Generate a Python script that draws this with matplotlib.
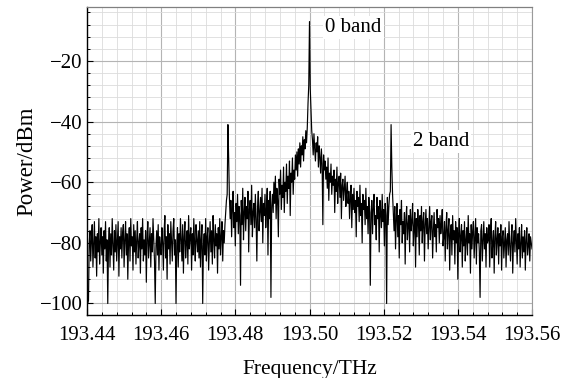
import numpy as np
import matplotlib
matplotlib.use("Agg")
import matplotlib.pyplot as plt
from matplotlib.ticker import MultipleLocator

# Spectrum, frequency grid 193.44 .. 193.56 THz (step 0.0002 THz)
floor_a = [-100, -100, -99, -80, -76, -86, -79, -74, -88, -81, -73, -85, -78, -91, -77, -83, -72, -87, -80, -75,
           -84, -78, -90, -76, -82, -73, -86, -79, -100, -81, -75, -88, -77, -84, -72, -80, -89, -76, -83, -74,
           -86, -79, -73, -91, -78, -82, -75, -85, -77, -74]
floor_b = [-88, -79, -73, -84, -77, -92, -80, -75, -86, -72, -81, -78, -89, -74, -83, -76, -87, -79, -73, -85,
           -80, -77, -90, -75, -82, -72, -86, -79, -84, -76, -93, -78, -73, -85, -80, -75, -88, -77, -83, -72,
           -79, -86, -100, -81, -76, -84, -74, -89, -78, -82]
floor_c = [-84, -75, -80, -89, -76, -71, -85, -78, -92, -74, -82, -77, -87, -73, -80, -86, -76, -72, -84, -79,
           -100, -81, -75, -88, -77, -83, -72, -79, -86, -74, -90, -78, -73, -85, -80, -76, -87, -71, -82, -78,
           -75, -89, -77, -84, -72, -80, -86, -74, -79, -83]
floor_d = [-76, -85, -73, -88, -79, -74, -100, -81, -77, -84, -72, -86, -78, -75, -89, -80, -73, -83, -76, -87,
           -71, -79, -85, -74, -81, -77, -90, -75, -82, -72, -84, -78, -73, -86, -76, -80, -74, -70, -66]
left_band = [-64, -41, -52, -65]
rise_a = [-72, -66, -78, -69, -63, -75, -70, -81, -67, -73, -64, -77, -68, -71, -94, -66, -74, -62, -79, -70,
          -65, -76, -68, -72, -63, -83, -69, -66, -74, -61, -78, -70, -67, -75, -64, -72, -86, -68, -63, -76,
          -70, -65, -73, -62, -80, -67, -71, -64, -75, -69, -62, -84, -66, -72, -63, -98, -68]
rise_b = [-64, -70, -60, -67, -58, -72, -62, -66, -78, -59, -64, -56, -69, -61, -65, -55, -70, -60, -63, -54,
          -67, -58, -62, -53, -71, -57, -60, -52, -64, -56, -59, -51]
rise_c = [-56, -50, -58, -49, -54, -47, -55, -48, -51, -45, -53, -46, -49, -43, -47, -42]
carrier = [-34, -28, -7, -29, -36, -43]
fall_a = [-46, -51, -44, -49, -53, -47, -50, -45, -55, -48, -52, -57, -49, -54, -74, -51, -56]
fall_b = [-53, -59, -55, -62, -52, -66, -57, -60, -54, -64, -58, -61, -56, -70, -59, -63, -55, -67, -60, -58,
          -65, -57, -72, -61, -59, -66, -62, -58, -68, -63]
fall_c = [-60, -67, -63, -72, -65, -61, -75, -64, -69, -62, -70, -66, -78, -63, -68, -65, -73, -61, -71, -67,
          -80, -64, -69, -66, -74, -62, -72, -68, -77, -65, -70]
fall_d = [-94, -70, -66, -77, -68, -64, -74, -71, -79, -65, -72, -68, -83, -66, -70, -75, -64, -73, -69, -81,
          -67, -71, -100, -65, -74, -68, -64]
right_band = [-63, -41, -55, -64]
tail_b = [-70, -76, -68, -82, -72, -67, -78, -71, -85, -69, -74, -66, -80, -73, -77, -70, -87, -72, -68, -79,
          -74, -71, -83, -69, -76, -73, -67, -81, -75, -70, -88, -72, -78, -69, -74, -84, -71, -76, -68, -80,
          -73, -70, -86, -74, -69, -77, -72, -82, -75, -68, -79, -73, -71, -85, -76, -70, -78, -74, -83, -69,
          -75, -72, -80, -71, -77, -74, -69, -81]
tail_c = [-78, -73, -86, -75, -70, -82, -76, -72, -89, -77, -74, -84, -71, -79, -76, -87, -73, -80, -75, -92,
          -77, -72, -83, -78, -74, -88, -76, -81, -73, -86, -79, -75, -84, -71, -80, -77, -90, -74, -82, -76,
          -73, -85, -78, -72, -87, -75, -80, -77, -83, -98, -76, -74, -86, -79, -73, -82, -77, -88, -75, -80]
tail_d = [-79, -74, -88, -77, -72, -85, -80, -76, -90, -78, -73, -84, -79, -75, -87, -77, -81, -74, -89, -78,
          -76, -85, -80, -75, -88, -79, -77, -84, -73, -81, -86, -78, -74, -90, -80, -76, -83, -72, -79, -87,
          -77, -82, -75, -88, -80, -74, -85, -78, -83, -76, -89, -79, -75, -84, -81, -77, -86, -78, -80, -82]

f_start, f_end = 193.44, 193.56
x_ticks = [193.44, 193.46, 193.48, 193.50, 193.52, 193.54, 193.56]
x_tick_labels = ["193.44", "193.46", "193.48", "193.50", "193.52", "193.54", "193.56"]
y_ticks = [-100, -80, -60, -40, -20]
annotations = [("0 band", 193.5042, -9.0), ("2 band", 193.5279, -46.5)]

power = np.array(floor_a + floor_b + floor_c + floor_d + left_band + rise_a + rise_b + rise_c + carrier
                 + fall_a + fall_b + fall_c + fall_d + right_band + tail_b + tail_c + tail_d, dtype=float)
freq = np.linspace(f_start, f_end, len(power))

plt.rcParams['font.family'] = ['Liberation Serif', 'DejaVu Serif']

fig = plt.figure(figsize=(5.72, 3.78), dpi=100)
ax = fig.add_axes([87/572, 1 - 315/378, (532 - 87)/572, (315 - 7)/378])

ax.plot(freq, power, color='black', lw=0.85)

ax.set_xlim(f_start, f_end)
ax.set_ylim(-103.8, -2.2)
ax.set_xticks(x_ticks)
ax.set_xticklabels(x_tick_labels)
ax.set_yticks(y_ticks)
ax.set_yticklabels(["\u2212" + str(abs(v)) for v in y_ticks])
ax.xaxis.set_minor_locator(MultipleLocator(0.004))
ax.yaxis.set_minor_locator(MultipleLocator(4))

ax.grid(which='major', color='#b4b4b4', lw=0.8)
ax.grid(which='minor', color='#dcdcdc', lw=0.6)
ax.set_axisbelow(True)

ax.tick_params(which='both', direction='in', labelsize=15, top=False, right=False)
ax.tick_params(which='major', length=4, width=0.8)
ax.tick_params(which='minor', length=2.5, width=0.7)
ax.tick_params(axis='x', pad=8)
ax.tick_params(axis='y', pad=3)

ax.spines['top'].set_color('#808080')
ax.spines['top'].set_linestyle((0, (4, 1)))
ax.spines['top'].set_linewidth(0.9)
ax.spines['right'].set_color('#9a9a9a')
ax.spines['right'].set_linewidth(0.8)
for side in ('left', 'bottom'):
    ax.spines[side].set_color('black')
    ax.spines[side].set_linewidth(1.0)

ax.set_xlabel("Frequency/THz", fontsize=15.5, labelpad=11)
ax.set_ylabel("Power/dBm", fontsize=16.5, labelpad=2)

for txt, fx, py in annotations:
    ax.text(fx, py, txt, fontsize=15, ha='left', va='center',
            bbox=dict(facecolor='white', edgecolor='none', pad=1.5))

fig.savefig("out.png", dpi=100)
